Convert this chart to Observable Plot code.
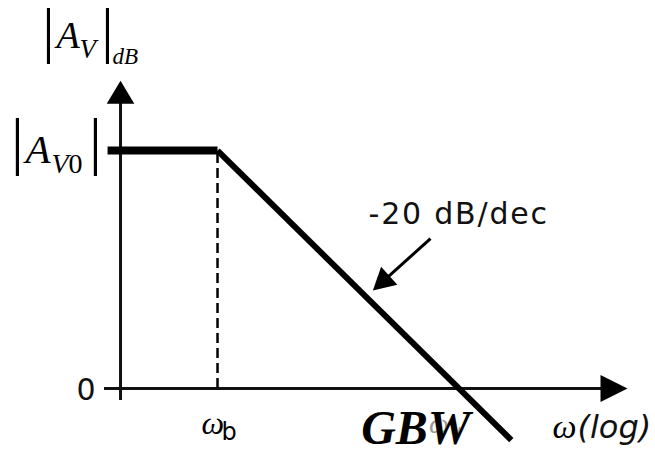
<!DOCTYPE html>
<html>
<head>
<meta charset="utf-8">
<script src="https://cdn.jsdelivr.net/npm/d3@7"></script>
<script src="https://cdn.jsdelivr.net/npm/@observablehq/plot@0.6"></script>
<style>
  html, body { margin: 0; padding: 0; background: #fff; }
  #chart svg { display: block; }
</style>
</head>
<body>
<div id="chart"></div>
<script>
// Bode magnitude asymptote of a single-pole amplifier (x: log10 ω, y: dB)
const gainDb = 60;                       // |A_V0|
const cornerLog = 1;                     // log10 ωb
const slopeDbPerDec = -20;
const gbwLog = cornerLog + gainDb / -slopeDbPerDec;   // unity-gain frequency

// asymptote vertices: flat part, corner, roll-off end
const asymLog = [-0.366, cornerLog, 4.65];
const asymDb  = [gainDb, gainDb, gainDb + slopeDbPerDec * (4.65 - cornerLog)];

// axis extents
const yAxisLog = -0.205;
const xAxisLog = [-0.404, 6.093];
const yAxisDb  = [-3, 77.6];

// slope annotation arrow (tail, tip)
const noteLog = [3.646, 2.93];
const noteDb  = [37.8, 24.7];

const W = 655, H = 451;
const xDomain = [-1.696, 6.441];
const yDomain = [-15.88, 97.82];
const kx = W / (xDomain[1] - xDomain[0]);     // px per decade
const ky = H / (yDomain[1] - yDomain[0]);     // px per dB

// filled arrowhead with its tip at the origin, rotated clockwise from "up"
function arrowHead(angleDeg, widthRatio) {
  const a = angleDeg * Math.PI / 180, c = Math.cos(a), s = Math.sin(a);
  return {
    draw(ctx, size) {
      const L = Math.sqrt(size / Math.PI), w = L * widthRatio / 2;
      const pts = [[0, 0], [-w, L], [w, L]].map(([x, y]) => [x * c - y * s, x * s + y * c]);
      ctx.moveTo(pts[0][0], pts[0][1]);
      ctx.lineTo(pts[1][0], pts[1][1]);
      ctx.lineTo(pts[2][0], pts[2][1]);
      ctx.closePath();
    }
  };
}

// annotation arrow geometry
const vx = (noteLog[1] - noteLog[0]) * kx, vy = -(noteDb[1] - noteDb[0]) * ky;
const vlen = Math.hypot(vx, vy);
const noteAngle = Math.atan2(vx, -vy) * 180 / Math.PI;
const headLen = 22;
const baseFrac = 1 - (headLen - 2) / vlen;
const noteBase = {
  x: noteLog[0] + (noteLog[1] - noteLog[0]) * baseFrac,
  y: noteDb[0] + (noteDb[1] - noteDb[0]) * baseFrac
};

const serif = "'Liberation Serif', 'Times New Roman', serif";
const sans = "'DejaVu Sans', Verdana, sans-serif";

function label(x, y, text, o) {
  return Plot.text([0], {x: () => x, y: () => y, text: () => text, lineAnchor: "bottom", textAnchor: "start", fill: "#000", ...o});
}

const asym = asymLog.map((x, i) => ({x, y: asymDb[i]}));

const chart = Plot.plot({
  width: W, height: H,
  marginTop: 0, marginRight: 0, marginBottom: 0, marginLeft: 0,
  x: {type: "linear", domain: xDomain, axis: null},
  y: {type: "linear", domain: yDomain, axis: null},
  style: {background: "#fff"},
  marks: [
    // axes
    Plot.ruleY([0], {x1: xAxisLog[0], x2: xAxisLog[1] - 20 / kx, stroke: "#111", strokeWidth: 3}),
    Plot.ruleX([yAxisLog], {y1: yAxisDb[0], y2: yAxisDb[1] - 18 / ky, stroke: "#111", strokeWidth: 3}),
    Plot.dot([0], {x: () => xAxisLog[1], y: () => 0, r: 27, symbol: arrowHead(90, 1.0), fill: "#000", stroke: "none"}),
    Plot.dot([0], {x: () => yAxisLog, y: () => yAxisDb[1], r: 23, symbol: arrowHead(0, 1.2), fill: "#000", stroke: "none"}),

    // corner frequency guide
    Plot.ruleX([cornerLog], {y1: 0, y2: gainDb, stroke: "#000", strokeWidth: 2.5, strokeDasharray: "10,5"}),

    // asymptote
    Plot.line(asym.slice(0, 2), {x: "x", y: "y", stroke: "#000", strokeWidth: 8, strokeLinecap: "butt"}),
    Plot.line(asym.slice(1), {x: "x", y: "y", stroke: "#000", strokeWidth: 6, strokeLinecap: "butt"}),

    // slope annotation
    Plot.link([0], {x1: () => noteLog[0], y1: () => noteDb[0], x2: () => noteBase.x, y2: () => noteBase.y, stroke: "#000", strokeWidth: 3}),
    Plot.dot([0], {x: () => noteLog[1], y: () => noteDb[1], r: headLen, symbol: arrowHead(noteAngle, 1.1), fill: "#000", stroke: "none"}),
    label(noteLog[0], noteDb[0], "-20 dB/dec", {dx: -62, dy: -15, fontFamily: sans, fontSize: 30, fill: "#111"}),

    // y-axis title |A_V|_dB
    label(yAxisLog, yAxisDb[1], "|", {dx: -72, dy: -30, textAnchor: "middle", fontFamily: serif, fontSize: 62}),
    label(yAxisLog, yAxisDb[1], "A", {dx: -64, dy: -33, fontFamily: serif, fontStyle: "italic", fontSize: 38}),
    label(yAxisLog, yAxisDb[1], "V", {dx: -41, dy: -23, fontFamily: serif, fontStyle: "italic", fontSize: 27}),
    label(yAxisLog, yAxisDb[1], "|", {dx: -13, dy: -30, textAnchor: "middle", fontFamily: serif, fontSize: 62}),
    label(yAxisLog, yAxisDb[1], "dB", {dx: -8, dy: -17, fontFamily: serif, fontStyle: "italic", fontSize: 23}),

    // |A_V0|
    label(yAxisLog, gainDb, "|", {dx: -103, dy: 11, textAnchor: "middle", fontFamily: serif, fontSize: 64}),
    label(yAxisLog, gainDb, "A", {dx: -95, dy: 12, fontFamily: serif, fontStyle: "italic", fontSize: 41}),
    label(yAxisLog, gainDb, "V", {dx: -69, dy: 22, fontFamily: serif, fontStyle: "italic", fontSize: 28}),
    label(yAxisLog, gainDb, "0", {dx: -52, dy: 22, fontFamily: serif, fontSize: 28}),
    label(yAxisLog, gainDb, "|", {dx: -25, dy: 11, textAnchor: "middle", fontFamily: serif, fontSize: 64}),

    // 0 dB
    label(yAxisLog, 0, "0", {dx: -25, dy: 2, textAnchor: "end", lineAnchor: "middle", fontFamily: sans, fontSize: 30, fill: "#111"}),

    // ωb
    label(cornerLog, 0, "ω", {dx: -16, dy: 45, fontFamily: serif, fontStyle: "italic", fontSize: 32}),
    label(cornerLog, 0, "b", {dx: 4, dy: 51, fontFamily: sans, fontSize: 24}),

    // ωu and GBW
    label(gbwLog, 0, "ω", {dx: -30, dy: 44, fontFamily: serif, fontStyle: "italic", fontSize: 28, fill: "#9a9a9a"}),
    label(gbwLog, 0, "u", {dx: -7, dy: 47, fontFamily: serif, fontStyle: "italic", fontSize: 18, fill: "#9a9a9a"}),
    label(gbwLog, 0, "GBW", {dx: 11.5, dy: 55, textAnchor: "end", fontFamily: serif, fontStyle: "italic", fontWeight: "bold", fontSize: 48}),

    // ω(log)
    label(xAxisLog[1], 0, "ω", {dx: -75, dy: 49, fontFamily: serif, fontStyle: "italic", fontSize: 34}),
    label(xAxisLog[1], 0, "(log)", {dx: -50, dy: 49, fontFamily: sans, fontStyle: "italic", fontSize: 32, fill: "#111"})
  ]
});

chart.querySelectorAll("text").forEach(t => {
  if (t.textContent === "-20 dB/dec") t.setAttribute("letter-spacing", "1.8");
});
document.getElementById("chart").appendChild(chart);
</script>
</body>
</html>
